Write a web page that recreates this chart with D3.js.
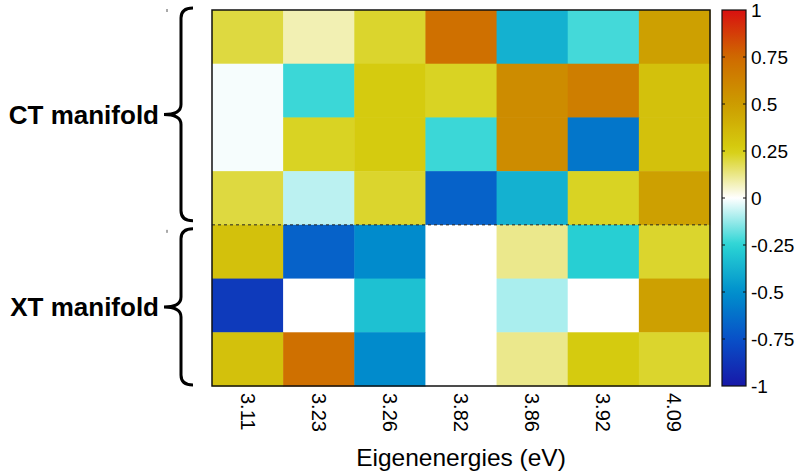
<!DOCTYPE html>
<html>
<head>
<meta charset="utf-8">
<script src="https://cdn.jsdelivr.net/npm/d3@7"></script>
<style>
  body { margin: 0; background: #fff; }
  svg { font-family: "Liberation Sans", Arial, sans-serif; }
</style>
</head>
<body>
<div id="chart"></div>
<script>
// eigenenergies (columns) and the two manifolds (rows)
const energies = ['3.11', '3.23', '3.26', '3.82', '3.86', '3.92', '4.09'];
const ctRows = ['ct1', 'ct2', 'ct3', 'ct4'];
const xtRows = ['xt1', 'xt2', 'xt3'];

// weights, one array per row, top to bottom
const ct1 = [0.20, 0.08, 0.22, 0.72, -0.38, -0.22, 0.48];
const ct2 = [-0.01, -0.23, 0.27, 0.23, 0.58, 0.65, 0.32];
const ct3 = [-0.01, 0.23, 0.27, -0.23, 0.58, -0.60, 0.32];
const ct4 = [0.20, -0.08, 0.22, -0.68, -0.38, 0.23, 0.48];
const xt1 = [0.32, -0.68, -0.52, 0.00, 0.12, -0.27, 0.22];
const xt2 = [-0.85, 0.00, -0.32, 0.00, -0.10, 0.00, 0.48];
const xt3 = [0.32, 0.72, -0.52, 0.00, 0.12, 0.27, 0.22];

const colorTicks = [-1, -0.75, -0.5, -0.25, 0, 0.25, 0.5, 0.75, 1];

const rows = ctRows.concat(xtRows);
const values = [ct1, ct2, ct3, ct4, xt1, xt2, xt3];

const width = 800, height = 473;
const svg = d3.select('#chart').append('svg')
  .attr('width', width)
  .attr('height', height);

const x = d3.scaleBand().domain(energies).range([212, 710]);
const y = d3.scaleBand().domain(rows).range([10, 386]);

// blue - cyan - white - yellow - orange - red
const color = d3.scaleLinear()
  .domain([-1, -0.75, -0.5, -0.25, 0, 0.25, 0.5, 0.75, 1])
  .range(['#1818a8', '#0850c8', '#0090cc', '#2ad4d4', '#ffffff', '#d6cf10', '#cc9c00', '#cf6a00', '#d81010'])
  .interpolate(d3.interpolateRgb);

const cells = [];
rows.forEach((r, i) => {
  energies.forEach((e, j) => {
    cells.push({ row: r, col: e, value: values[i][j] });
  });
});

svg.append('g').attr('class', 'cells')
  .selectAll('rect')
  .data(cells)
  .enter().append('rect')
  .attr('x', (d) => x(d.col))
  .attr('y', (d) => y(d.row))
  .attr('width', x.bandwidth() + 0.5)
  .attr('height', y.bandwidth() + 0.5)
  .attr('fill', (d) => color(d.value));

// dashed separator between manifolds
const sepY = y(xtRows[0]);
svg.append('line')
  .attr('x1', x.range()[0]).attr('x2', x.range()[1])
  .attr('y1', sepY).attr('y2', sepY)
  .attr('stroke', '#222')
  .attr('stroke-width', 1)
  .attr('stroke-dasharray', '3,3');

// frame
svg.append('rect')
  .attr('x', x.range()[0]).attr('y', y.range()[0])
  .attr('width', x.range()[1] - x.range()[0])
  .attr('height', y.range()[1] - y.range()[0])
  .attr('fill', 'none')
  .attr('stroke', '#111')
  .attr('stroke-width', 1.5);

// x tick labels, rotated
svg.append('g').selectAll('text')
  .data(energies)
  .enter().append('text')
  .attr('transform', (d) => `translate(${x(d) + x.bandwidth() / 2},393) rotate(90)`)
  .attr('dy', '0.35em')
  .attr('font-size', 20)
  .text((d) => d);

svg.append('text')
  .attr('x', (x.range()[0] + x.range()[1]) / 2)
  .attr('y', 466)
  .attr('text-anchor', 'middle')
  .attr('font-size', 24.5)
  .text('Eigenenergies (eV)');

// braces + group labels
function brace(y0, y1, xr, xl) {
  const xm = xr - 12;
  const ym = (y0 + y1) / 2;
  const r = 10;
  return `M${xr},${y0} Q${xm},${y0} ${xm},${y0 + r} L${xm},${ym - r} Q${xm},${ym} ${xl},${ym}`
    + ` Q${xm},${ym} ${xm},${ym + r} L${xm},${y1 - r} Q${xm},${y1} ${xr},${y1}`;
}

const groups = [
  { label: 'CT manifold', y0: y(ctRows[0]) - 2, y1: y(ctRows[ctRows.length - 1]) + y.bandwidth() - 4 },
  { label: 'XT manifold', y0: y(xtRows[0]) + 4, y1: y(xtRows[xtRows.length - 1]) + y.bandwidth() - 1 }
];

svg.append('g').selectAll('path')
  .data(groups)
  .enter().append('path')
  .attr('d', (d) => brace(d.y0, d.y1, 193, 164))
  .attr('fill', 'none')
  .attr('stroke', '#000')
  .attr('stroke-width', 3);

svg.append('g').selectAll('text')
  .data(groups)
  .enter().append('text')
  .attr('x', 159)
  .attr('y', (d) => (d.y0 + d.y1) / 2)
  .attr('dy', '0.35em')
  .attr('text-anchor', 'end')
  .attr('font-size', 26)
  .attr('font-weight', 'bold')
  .text((d) => d.label);

// leftover tick stubs of the hidden axis
svg.append('g').selectAll('line')
  .data(groups)
  .enter().append('line')
  .attr('x1', 167).attr('x2', 167)
  .attr('y1', (d) => d.y0 + 1).attr('y2', (d) => d.y0 + 4)
  .attr('stroke', '#555');

// colorbar
const cb = { x: 722, w: 24 };
const cbScale = d3.scaleLinear().domain([-1, 1]).range([y.range()[1], y.range()[0]]);

const grad = svg.append('defs').append('linearGradient')
  .attr('id', 'cbgrad')
  .attr('x1', 0).attr('y1', 1).attr('x2', 0).attr('y2', 0);
grad.selectAll('stop')
  .data(d3.range(0, 1.0001, 0.02))
  .enter().append('stop')
  .attr('offset', (t) => t)
  .attr('stop-color', (t) => color(-1 + 2 * t));

svg.append('rect')
  .attr('x', cb.x).attr('y', cbScale(1))
  .attr('width', cb.w).attr('height', cbScale(-1) - cbScale(1))
  .attr('fill', 'url(#cbgrad)')
  .attr('stroke', '#111')
  .attr('stroke-width', 1.2);

const cbTicks = svg.append('g');
cbTicks.selectAll('line.l')
  .data(colorTicks.slice(1, -1))
  .enter().append('line')
  .attr('x1', cb.x).attr('x2', cb.x + 3)
  .attr('y1', (d) => cbScale(d)).attr('y2', (d) => cbScale(d))
  .attr('stroke', '#111');
cbTicks.selectAll('line.r')
  .data(colorTicks.slice(1, -1))
  .enter().append('line')
  .attr('x1', cb.x + cb.w - 3).attr('x2', cb.x + cb.w)
  .attr('y1', (d) => cbScale(d)).attr('y2', (d) => cbScale(d))
  .attr('stroke', '#111');

svg.append('g').selectAll('text')
  .data(colorTicks)
  .enter().append('text')
  .attr('x', cb.x + cb.w + 5)
  .attr('y', (d) => cbScale(d))
  .attr('dy', '0.35em')
  .attr('font-size', 19)
  .text((d) => d);
</script>
</body>
</html>
